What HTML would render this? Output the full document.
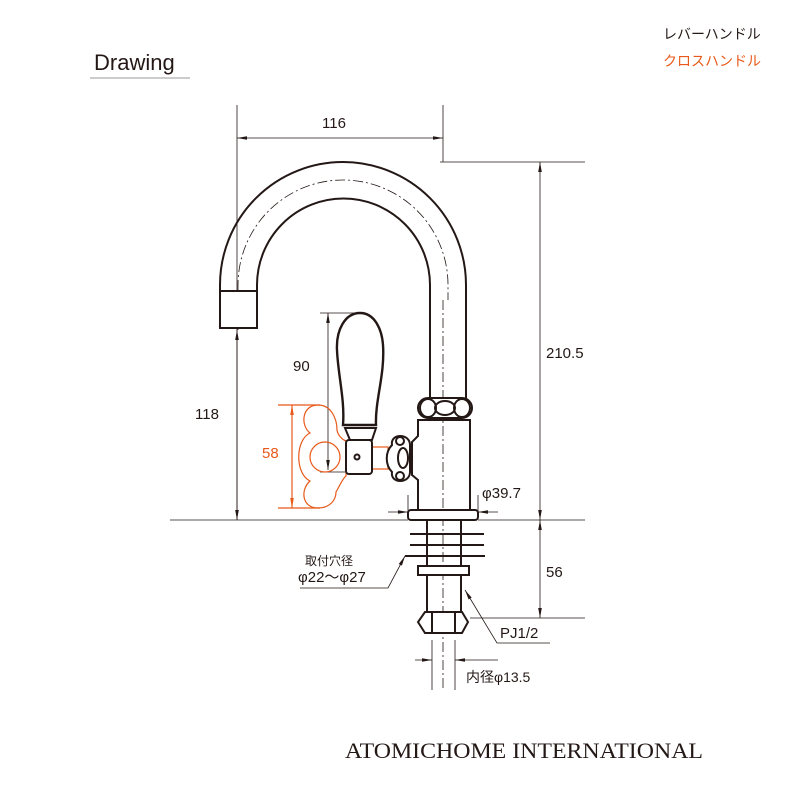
<!DOCTYPE html>
<html><head><meta charset="utf-8"><style>
html,body{margin:0;padding:0;background:#fff}
svg{display:block}
text{font-family:"Liberation Sans","Noto Sans CJK JP",sans-serif;fill:#231815}
</style></head><body>
<svg width="800" height="800" viewBox="0 0 800 800" xmlns="http://www.w3.org/2000/svg">
<defs>
<marker id="a" viewBox="0 0 10 10" refX="10" refY="5" markerWidth="10" markerHeight="10" markerUnits="userSpaceOnUse" orient="auto-start-reverse"><path d="M0,3.2 L10,5 L0,6.8 z" fill="#231815"/></marker>
<marker id="o" viewBox="0 0 10 10" refX="10" refY="5" markerWidth="10" markerHeight="10" markerUnits="userSpaceOnUse" orient="auto-start-reverse"><path d="M0,3.2 L10,5 L0,6.8 z" fill="#e8591a"/></marker>
</defs>
<text x="94" y="70" font-size="22">Drawing</text>
<line x1="90" y1="78" x2="190" y2="78" stroke="#999" stroke-width="1"/>
<text x="663" y="39" font-size="14">レバーハンドル</text>
<text x="663" y="66" font-size="14" style="fill:#e8591a">クロスハンドル</text>
<text x="345" y="758" font-size="22" textLength="358" lengthAdjust="spacingAndGlyphs" style="font-family:'Liberation Serif',serif">ATOMICHOME INTERNATIONAL</text>

<g stroke="#231815" stroke-width="0.8" fill="none">
<line x1="237" y1="105" x2="237" y2="520"/>
<line x1="443" y1="105" x2="443" y2="162"/>
<line x1="237" y1="138" x2="443" y2="138" marker-start="url(#a)" marker-end="url(#a)"/>
<line x1="440" y1="162" x2="585" y2="162"/>
<line x1="540" y1="162" x2="540" y2="520" marker-start="url(#a)" marker-end="url(#a)"/>
<line x1="237" y1="330" x2="237" y2="520" marker-start="url(#a)" marker-end="url(#a)"/>
<line x1="320" y1="313" x2="360" y2="313"/>
<line x1="328" y1="313" x2="328" y2="470" marker-start="url(#a)" marker-end="url(#a)"/>
<line x1="320" y1="472" x2="345" y2="472"/>
<line x1="170" y1="520" x2="408" y2="520"/>
<line x1="478" y1="520" x2="585" y2="520"/>
<line x1="540" y1="520" x2="540" y2="618" marker-start="url(#a)" marker-end="url(#a)"/>
<line x1="470" y1="618" x2="585" y2="618"/>
<line x1="388" y1="512" x2="408" y2="512" marker-end="url(#a)"/>
<line x1="498" y1="512" x2="478" y2="512" marker-end="url(#a)"/>
<line x1="408" y1="495" x2="408" y2="518"/><line x1="478" y1="495" x2="478" y2="518"/>
<line x1="432" y1="640" x2="432" y2="690"/><line x1="455" y1="640" x2="455" y2="690"/>
<line x1="415" y1="660" x2="432" y2="660" marker-end="url(#a)"/>
<line x1="498" y1="660" x2="455" y2="660" marker-end="url(#a)"/>
<polyline points="465,590 497,643 550,643" marker-start="url(#a)"/>
<polyline points="405,556 388,588 300,588" marker-start="url(#a)"/>
<line x1="443" y1="300" x2="443" y2="690" stroke-dasharray="10,3,2,3"/>
<line x1="238" y1="290" x2="238" y2="330" stroke-dasharray="6,3"/>
<path d="M238,290 L238,285 A105,105 0 0 1 448,285 L448,300" stroke-dasharray="10,3,2,3"/>
</g>
<g stroke="#e8591a" stroke-width="1.2" fill="none">
<line x1="278" y1="405" x2="320" y2="405"/><line x1="278" y1="508" x2="320" y2="508"/>
<line x1="292" y1="405" x2="292" y2="508" marker-start="url(#o)" marker-end="url(#o)"/>
<path d="M318,405 C302,405 300,425 310,433 C295,440 295,474 310,481 C300,490 302,508 318,508 C330,508 336,500 336,492 C340,485 343,478 346,476 L346,441 C343,440 338,436 337,430 C337,420 332,405 318,405 Z"/>
<circle cx="325" cy="457" r="15"/>
<rect x="372" y="447" width="16" height="22"/>
</g>
<g stroke="#231815" stroke-width="2" fill="none">
<path d="M220,290 L220,285 A123,123 0 0 1 466,285 L466,400"/>
<path d="M257,290 L257,285 A86.5,86.5 0 0 1 430,285 L430,400"/>
<rect x="220" y="291" width="37" height="37" fill="#fff"/>
<rect x="418" y="398" width="54" height="20" rx="10" fill="#fff"/>
<ellipse cx="428" cy="408" rx="8" ry="9"/><ellipse cx="462" cy="408" rx="8" ry="9"/><ellipse cx="445" cy="408" rx="10" ry="7"/>
<path d="M418,420 L470,420 L470,510 L418,510 L418,480 L412,475 L412,442 L418,436 Z"/>
<path d="M392,445 C390,433 410,433 410,445 L410,472 C410,484 390,484 392,472 C385,465 385,452 392,445 Z" fill="#fff"/>
<ellipse cx="403" cy="458" rx="5" ry="10"/>
<circle cx="400" cy="441" r="4"/><circle cx="400" cy="476" r="4"/>
<rect x="408" y="510" width="70" height="10" rx="3" fill="#fff"/>
<path d="M360,313 C345,313 336,330 337,350 C338,375 345,400 343,425 L376,425 C375,400 385,375 383,345 C382,330 375,313 360,313 Z" fill="#fff" stroke-width="2.4"/>
<path d="M345,428 L376,428 L372,440 L350,440 Z"/>
<rect x="346" y="440" width="26" height="34" rx="3" fill="#fff"/>
<circle cx="357" cy="457" r="2.5"/>
<line x1="427" y1="520" x2="427" y2="612"/><line x1="461" y1="520" x2="461" y2="612"/>
<line x1="410" y1="534" x2="484" y2="534"/><line x1="410" y1="545" x2="484" y2="545"/><line x1="405" y1="556" x2="485" y2="556"/>
<path d="M418,566 L469,566 L469,575 L418,575 Z" fill="#fff"/>
<path d="M425,612 L462,612 L468,622 L462,633 L425,633 L418,622 Z" fill="#fff"/>
<line x1="432" y1="612" x2="432" y2="633"/><line x1="455" y1="612" x2="455" y2="633"/>
</g>
<text x="322" y="128" font-size="15">116</text>
<text x="546" y="358" font-size="15">210.5</text>
<text x="195" y="419" font-size="15">118</text>
<text x="293" y="371" font-size="15">90</text>
<text x="262" y="458" font-size="15" style="fill:#e8591a">58</text>
<text x="482" y="498" font-size="15">φ39.7</text>
<text x="546" y="577" font-size="15">56</text>
<text x="500" y="638" font-size="15">PJ1/2</text>
<text x="305" y="565" font-size="12">取付穴径</text>
<text x="298" y="582" font-size="15">φ22〜φ27</text>
<text x="466" y="682" font-size="14">内径φ13.5</text>
</svg>
</body></html>
